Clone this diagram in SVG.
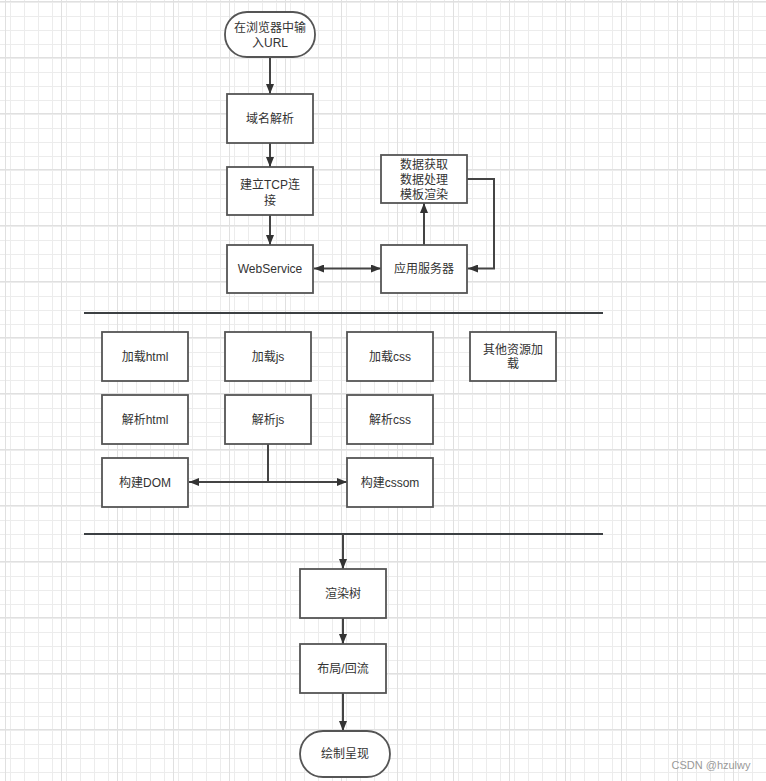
<svg xmlns="http://www.w3.org/2000/svg" width="766" height="781" viewBox="0 0 766 781">
<defs>
<pattern id="minor" x="5" y="1" width="14" height="14" patternUnits="userSpaceOnUse">
<path d="M0.5,0 V14 M0,0.5 H14" stroke="#ececec" stroke-width="1" fill="none"/>
</pattern>
<pattern id="major" x="5" y="1" width="56" height="56" patternUnits="userSpaceOnUse">
<rect width="56" height="56" fill="url(#minor)"/>
<path d="M0.5,0 V56 M0,0.5 H56" stroke="#e0e0e0" stroke-width="1" fill="none"/>
</pattern>
<marker id="arr" viewBox="0 0 10 8" refX="10" refY="4" markerWidth="10" markerHeight="8" markerUnits="userSpaceOnUse" orient="auto-start-reverse">
<path d="M0,0 L10,4 L0,8 z" fill="#333"/>
</marker>
<style>
.box{fill:#fff;stroke:#555;stroke-width:1.8}
.t{font-family:"Liberation Sans","Noto Sans CJK SC",sans-serif;font-size:12px;fill:#333;text-anchor:middle;dominant-baseline:central}
.c{fill:none;stroke:#444;stroke-width:2}
.sep{stroke:#3c4043;stroke-width:2}
</style>
</defs>
<rect width="766" height="781" fill="#fff"/>
<rect width="766" height="781" fill="url(#major)"/>

<g id="separators">
<line class="sep" x1="84" y1="313" x2="603" y2="313"/>
<line class="sep" x1="84" y1="534" x2="603" y2="534"/>
</g>

<g id="connectors">
<line class="c" x1="270" y1="57" x2="270" y2="94" marker-end="url(#arr)"/>
<line class="c" x1="270" y1="143" x2="270" y2="167" marker-end="url(#arr)"/>
<line class="c" x1="270" y1="215" x2="270" y2="245" marker-end="url(#arr)"/>
<line class="c" x1="314" y1="268.5" x2="381" y2="268.5" marker-start="url(#arr)" marker-end="url(#arr)"/>
<line class="c" x1="424" y1="245" x2="424" y2="203" marker-end="url(#arr)"/>
<path class="c" d="M467,179 H494 V268.5 H468" marker-end="url(#arr)"/>
<line class="c" x1="268" y1="444" x2="268" y2="482"/>
<line class="c" x1="189" y1="482" x2="347" y2="482" marker-start="url(#arr)" marker-end="url(#arr)"/>
<line class="c" x1="343" y1="534" x2="343" y2="569" marker-end="url(#arr)"/>
<line class="c" x1="343" y1="618" x2="343" y2="644" marker-end="url(#arr)"/>
<line class="c" x1="343" y1="693" x2="343" y2="731" marker-end="url(#arr)"/>
</g>

<g id="start"><rect class="box" x="225" y="12" width="90" height="45" rx="22" ry="22"/><text class="t" x="270" y="28">在浏览器中输</text><text class="t" x="270" y="43">入URL</text></g>
<g id="dns"><rect class="box" x="227" y="94" width="86" height="49"/><text class="t" x="270" y="118.5">域名解析</text></g>
<g id="tcp"><rect class="box" x="227" y="167" width="86" height="48"/><text class="t" x="270" y="185">建立TCP连</text><text class="t" x="270" y="200.5">接</text></g>
<g id="webservice"><rect class="box" x="227" y="245" width="86" height="48"/><text class="t" x="270" y="269">WebService</text></g>
<g id="data"><rect class="box" x="381" y="155" width="86" height="48"/><text class="t" x="424" y="165">数据获取</text><text class="t" x="424" y="180">数据处理</text><text class="t" x="424" y="194.5">模板渲染</text></g>
<g id="appserver"><rect class="box" x="381" y="245" width="86" height="48"/><text class="t" x="424" y="269">应用服务器</text></g>

<g id="load-html"><rect class="box" x="102" y="332" width="86" height="49"/><text class="t" x="145" y="356.5">加载html</text></g>
<g id="load-js"><rect class="box" x="225" y="332" width="86" height="49"/><text class="t" x="268" y="356.5">加载js</text></g>
<g id="load-css"><rect class="box" x="347" y="332" width="86" height="49"/><text class="t" x="390" y="356.5">加载css</text></g>
<g id="load-other"><rect class="box" x="470" y="332" width="86" height="49"/><text class="t" x="513" y="350">其他资源加</text><text class="t" x="513" y="363.5">载</text></g>

<g id="parse-html"><rect class="box" x="102" y="395" width="86" height="49"/><text class="t" x="145" y="419.5">解析html</text></g>
<g id="parse-js"><rect class="box" x="225" y="395" width="86" height="49"/><text class="t" x="268" y="419.5">解析js</text></g>
<g id="parse-css"><rect class="box" x="347" y="395" width="86" height="49"/><text class="t" x="390" y="419.5">解析css</text></g>

<g id="build-dom"><rect class="box" x="102" y="458" width="86" height="49"/><text class="t" x="145" y="482.5">构建DOM</text></g>
<g id="build-cssom"><rect class="box" x="347" y="458" width="86" height="49"/><text class="t" x="390" y="482.5">构建cssom</text></g>

<g id="render-tree"><rect class="box" x="300" y="569" width="86" height="49"/><text class="t" x="343" y="593.5">渲染树</text></g>
<g id="layout"><rect class="box" x="300" y="644" width="86" height="49"/><text class="t" x="343" y="668.5">布局/回流</text></g>
<g id="paint"><rect class="box" x="300" y="731" width="90" height="46" rx="23" ry="23"/><text class="t" x="345" y="754">绘制呈现</text></g>

<text x="711" y="765" style="font-family:'Liberation Sans','Noto Sans CJK SC',sans-serif;font-size:11px;fill:#999;text-anchor:middle;dominant-baseline:central">CSDN @hzulwy</text>
</svg>
